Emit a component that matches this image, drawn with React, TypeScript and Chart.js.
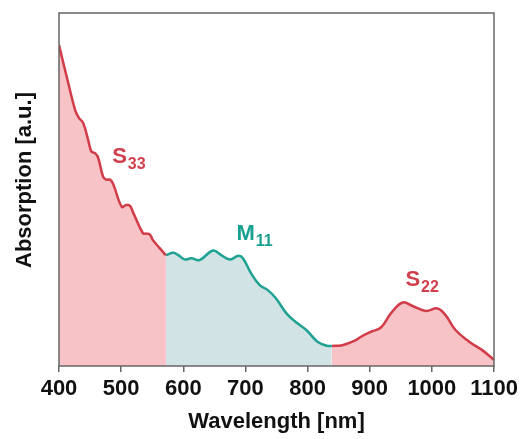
import React, { useEffect, useRef } from "react";
import { Chart, registerables } from "chart.js";

Chart.register(...registerables);

// Wavelength (nm) and absorption (a.u., 0–100 scale)
const wavelengths = [
  400, 415, 426, 432, 439, 447, 452, 458, 463, 471, 476, 482, 487, 501, 508, 514, 519, 535, 540, 546, 551, 562, 572,
  584, 592, 602, 613, 626, 648, 661, 675, 689, 696, 709, 723, 736, 749, 766, 782, 798, 816, 832, 839,
  856, 875, 888, 902, 918, 934, 953, 969, 990, 1009, 1022, 1038, 1060, 1081, 1097, 1100,
];
const absorption = [
  90.9, 80.1, 72.5, 70.3, 68.8, 64.0, 60.8, 60.3, 59.0, 53.6, 52.8, 52.8, 51.6, 45.1, 45.6, 45.4, 43.6, 37.6, 37.5, 37.3, 35.7, 33.4, 31.4,
  32.1, 31.4, 30.2, 30.5, 30.0, 32.7, 31.4, 30.2, 31.2, 30.5, 26.3, 22.9, 21.5, 19.2, 14.9, 12.3, 10.2, 6.9, 5.7, 5.7,
  5.9, 7.1, 8.5, 9.7, 10.9, 14.9, 18.0, 17.0, 15.6, 16.3, 14.4, 10.2, 6.9, 4.5, 2.2, 1.8,
];

// Band boundaries (nm) and band names
const bandEdges = [400, 572, 839, 1100];
const bandLetters = ["S", "M", "S"];
const bandSubscripts = ["33", "11", "22"];
// Label anchors in data coordinates (wavelength, absorption)
const labelWavelengths = [485.5, 685.5, 957.5];
const labelAbsorptions = [57.5, 35.6, 22.6];

const xTicks = [400, 500, 600, 700, 800, 900, 1000, 1100];
const xTitle = "Wavelength [nm]";
const yTitle = "Absorption [a.u.]";

const RED_LINE = "#d23b48";
const RED_FILL = "#f7c3c7";
const TEAL_LINE = "#1fa294";
const TEAL_FILL = "#d2e3e5";
const bandLineColors = [RED_LINE, TEAL_LINE, RED_LINE];
const bandFillColors = [RED_FILL, TEAL_FILL, RED_FILL];
const bandLabelColors = ["#d0404c", "#17a08f", "#d0404c"];

const FONT = "'Liberation Sans', Arial, sans-serif";

export default function App() {
  const canvasRef = useRef<HTMLCanvasElement | null>(null);

  useEffect(() => {
    document.body.style.margin = "0";
    const canvas = canvasRef.current;
    if (!canvas) return;

    const datasets = bandLetters.map((_, i) => {
      const lo = bandEdges[i];
      const hi = bandEdges[i + 1];
      const pts = wavelengths
        .map((w, k) => ({ x: w, y: absorption[k] }))
        .filter((p) => p.x >= lo && p.x <= hi);
      return {
        label: bandLetters[i] + bandSubscripts[i],
        data: pts,
        borderColor: bandLineColors[i],
        backgroundColor: bandFillColors[i],
        borderWidth: 2.5,
        pointRadius: 0,
        fill: "origin",
        tension: 0.4,
        order: i,
      };
    });

    const overlay = {
      id: "overlay",
      afterDraw(chart: any) {
        const { ctx, chartArea } = chart;
        const xs = chart.scales.x;
        const ys = chart.scales.y;
        ctx.save();
        // frame
        ctx.strokeStyle = "#666666";
        ctx.lineWidth = 1.5;
        ctx.strokeRect(chartArea.left, chartArea.top, chartArea.right - chartArea.left, chartArea.bottom - chartArea.top);

        // band labels
        ctx.textBaseline = "alphabetic";
        ctx.textAlign = "left";
        for (let i = 0; i < bandLetters.length; i++) {
          const px = xs.getPixelForValue(labelWavelengths[i]);
          const py = ys.getPixelForValue(labelAbsorptions[i]);
          ctx.fillStyle = bandLabelColors[i];
          ctx.font = `bold 22px ${FONT}`;
          ctx.fillText(bandLetters[i], px, py);
          const w = ctx.measureText(bandLetters[i]).width;
          ctx.font = `bold 16px ${FONT}`;
          ctx.fillText(bandSubscripts[i], px + w + 1, py + 5.5);
        }

        // axis titles
        ctx.fillStyle = "#111111";
        ctx.font = `bold 22px ${FONT}`;
        ctx.textAlign = "center";
        ctx.textBaseline = "middle";
        ctx.fillText(xTitle, (chartArea.left + chartArea.right) / 2, 421.5);
        ctx.translate(24.5, 180);
        ctx.rotate(-Math.PI / 2);
        ctx.fillText(yTitle, 0, 0);
        ctx.restore();
      },
    };

    const chart = new Chart(canvas, {
      type: "line",
      data: { datasets: datasets as any },
      options: {
        animation: false,
        responsive: false,
        layout: { padding: { left: 59, right: 27, top: 13, bottom: 0 } },
        plugins: { legend: { display: false }, tooltip: { enabled: false } },
        scales: {
          x: {
            type: "linear",
            min: 400,
            max: 1100,
            afterBuildTicks: (scale: any) => {
              scale.ticks = xTicks.map((v) => ({ value: v }));
            },
            afterFit: (scale: any) => {
              scale.height = 73;
              scale.paddingLeft = 0;
              scale.paddingRight = 0;
            },
            ticks: {
              color: "#111111",
              padding: 4,
              font: { family: FONT, size: 22, weight: "bold", lineHeight: 1.2 },
              maxRotation: 0,
              autoSkip: false,
              callback: (v: any) => String(v),
            },
            grid: {
              drawOnChartArea: false,
              drawTicks: true,
              tickLength: 6,
              color: "#666666",
              lineWidth: 1.5,
            },
            border: { display: false },
          },
          y: {
            display: false,
            min: 0,
            max: 100,
          },
        },
      },
      plugins: [overlay],
    });

    return () => chart.destroy();
  }, []);

  return (
    <div style={{ width: 521, height: 439 }}>
      <canvas ref={canvasRef} width={521} height={439} style={{ display: "block" }} />
    </div>
  );
}
